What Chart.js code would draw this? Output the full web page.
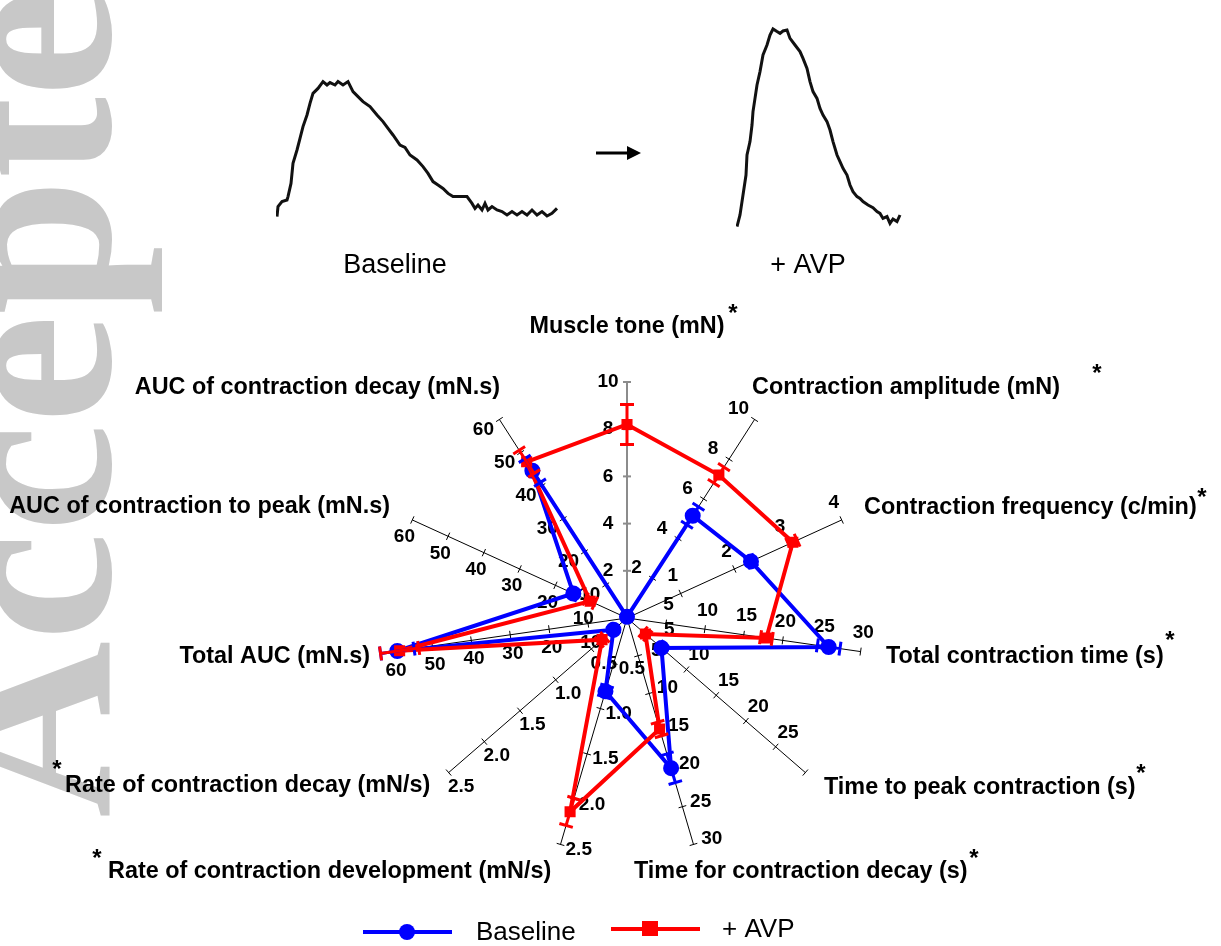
<!DOCTYPE html>
<html>
<head>
<meta charset="utf-8">
<script src="https://cdn.jsdelivr.net/npm/chart.js@4.4.1/dist/chart.umd.min.js"></script>
<style>
  html, body { margin: 0; padding: 0; background: #ffffff; }
  #page { position: relative; width: 1221px; height: 946px; overflow: hidden; }
  canvas { position: absolute; }
  #radar { left: 0; top: 0; }
  #traceBase { left: 276px; top: 20px; }
  #traceAvp { left: 736px; top: 20px; }
</style>
</head>
<body>
<div id="page">
  <canvas id="radar" width="1221" height="946"></canvas>
  <canvas id="traceBase" width="300" height="210"></canvas>
  <canvas id="traceAvp" width="300" height="210"></canvas>
</div>
<script>
// ---- Radar axes ----
const axisNames = [
  'Muscle tone (mN)',
  'Contraction amplitude (mN)',
  'Contraction frequency (c/min)',
  'Total contraction time (s)',
  'Time to peak contraction (s)',
  'Time for contraction decay (s)',
  'Rate of contraction development (mN/s)',
  'Rate of contraction decay (mN/s)',
  'Total AUC (mN.s)',
  'AUC of contraction to peak (mN.s)',
  'AUC of contraction decay (mN.s)'
];
const axisMax = [10, 10, 4, 30, 30, 30, 2.5, 2.5, 60, 60, 60];
const axisStep = [2, 2, 1, 5, 5, 5, 0.5, 0.5, 10, 10, 10];
const axisLabelMax = [10, 10, 4, 30, 25, 30, 2.5, 2.5, 60, 60, 60];
const axisSignificant = [true, true, true, true, true, true, true, true, false, false, false];

// ---- Series (mean and SEM on each axis) ----
const baselineMean = [0.05, 5.15, 2.31, 25.9, 5.8, 19.9, 0.81, 0.19, 59.0, 15.0, 44.5];
const baselineSem  = [0.05, 0.45, 0.07, 1.45, 0.45, 1.9, 0.06, 0.03, 4.3, 1.2, 3.6];
const avpMean      = [8.2, 7.2, 3.09, 17.9, 3.1, 14.7, 2.14, 0.35, 58.4, 10.3, 47.2];
const avpSem       = [0.85, 0.4, 0.08, 0.75, 0.4, 0.9, 0.15, 0.04, 4.9, 1.3, 3.5];

// ---- Example contraction traces (time in s, force in mN) ----
const baseTraceTime = [0.1,0.2,0.6,1.1,1.2,1.5,1.7,2.1,2.4,2.7,3.1,3.4,3.7,4.2,4.7,5.1,5.4,5.9,6.2,6.7,7.2,7.7,8.2,8.7,9.4,10.1,10.7,11.2,11.7,12.4,12.9,13.4,14.1,14.7,15.2,15.7,16.2,16.7,17.2,17.7,18.6,19.1,19.6,19.9,20.2,20.6,20.9,21.2,21.6,22.1,22.6,23.1,23.6,24.1,24.6,25.1,25.6,26.1,26.6,27.1,27.6,28.1];
const baseTraceForce = [0.67,1.17,1.42,1.5,1.67,2.33,3.33,4.0,4.58,5.17,5.75,6.33,6.83,7.08,7.42,7.25,7.37,7.25,7.42,7.25,7.42,6.92,6.67,6.42,6.17,5.75,5.42,5.08,4.75,4.25,4.13,3.75,3.5,3.17,2.83,2.42,2.25,2.08,1.83,1.67,1.67,1.67,1.33,1.08,1.25,1.0,1.33,1.0,1.17,1.0,0.92,0.75,0.92,0.75,0.92,0.75,1.0,0.75,0.92,0.7,0.83,1.08];
const avpTraceTime = [0.1,0.4,0.7,1.0,1.1,1.4,1.6,1.7,1.9,2.1,2.4,2.7,3.1,3.4,3.7,4.1,4.4,4.7,5.1,5.4,5.9,6.4,6.7,7.1,7.4,7.7,8.1,8.4,8.7,9.1,9.4,9.7,10.1,10.4,10.7,11.1,11.4,11.7,12.1,12.4,12.7,13.2,13.7,14.1,14.4,14.7,15.1,15.4,15.7,16.1,16.4];
const avpTraceForce = [0.17,0.75,1.75,2.75,3.75,4.42,5.25,5.92,6.58,7.25,7.92,8.75,9.25,9.75,10.05,9.92,9.83,9.95,10.0,9.58,9.25,8.92,8.58,8.08,7.42,6.92,6.58,6.08,5.75,5.42,5.0,4.42,3.75,3.42,3.08,2.75,2.25,1.92,1.67,1.58,1.42,1.25,1.12,0.92,0.83,0.58,0.67,0.33,0.55,0.42,0.75];

const BLUE = '#0000ff';
const RED = '#ff0000';
const SANS = '"Liberation Sans", Arial, Helvetica, sans-serif';

// Title placement around the radar (text anchor, alignment, asterisk spot)
const titleLayout = [
  {x: 627, y: 327, align: 'center', star: [733, 314]},
  {x: 752, y: 388, align: 'left', star: [1097, 374]},
  {x: 864, y: 508, align: 'left', star: [1202, 498]},
  {x: 886, y: 657, align: 'left', star: [1170, 641]},
  {x: 824, y: 788, align: 'left', star: [1141, 774]},
  {x: 634, y: 872, align: 'left', star: [974, 859]},
  {x: 108, y: 872, align: 'left', star: [97, 859]},
  {x: 65, y: 786, align: 'left', star: [57, 770]},
  {x: 370, y: 657, align: 'right'},
  {x: 390, y: 507, align: 'right'},
  {x: 500, y: 388, align: 'right'}
];

function fmtTick(v, step) {
  return step < 1 ? v.toFixed(1) : String(Math.round(v));
}

const radarDecor = {
  id: 'radarDecor',
  beforeDraw(chart) {
    const ctx = chart.ctx;
    // faint vertical watermark along the left edge
    ctx.save();
    ctx.fillStyle = '#c8c8c8';
    ctx.font = 'bold 245px "Liberation Serif", "Times New Roman", serif';
    ctx.translate(110, 818);
    ctx.rotate(-Math.PI / 2);
    ctx.textBaseline = 'alphabetic';
    ctx.textAlign = 'left';
    ctx.fillText('Accepted', 0, 0);
    ctx.restore();

    // captions under the two traces and the arrow between them
    ctx.save();
    ctx.fillStyle = '#000';
    ctx.font = '27px ' + SANS;
    ctx.textAlign = 'center';
    ctx.textBaseline = 'middle';
    ctx.fillText('Baseline', 395, 266);
    ctx.fillText('+ AVP', 808, 266);
    ctx.strokeStyle = '#000';
    ctx.lineWidth = 3;
    ctx.beginPath();
    ctx.moveTo(596, 153);
    ctx.lineTo(630, 153);
    ctx.stroke();
    ctx.beginPath();
    ctx.moveTo(641, 153);
    ctx.lineTo(627, 146);
    ctx.lineTo(627, 160);
    ctx.closePath();
    ctx.fill();
    ctx.restore();
  },
  beforeDatasetsDraw(chart) {
    const ctx = chart.ctx;
    const s = chart.scales.r;
    const cx = s.xCenter, cy = s.yCenter;
    ctx.save();
    axisNames.forEach((name, i) => {
      const end = s.getPointPositionForValue(i, 1);
      const len = Math.hypot(end.x - cx, end.y - cy);
      const ux = (end.x - cx) / len, uy = (end.y - cy) / len;
      const px = uy, py = -ux;
      const first = i === 0;
      ctx.strokeStyle = first ? '#8c8c8c' : '#000';
      ctx.lineWidth = first ? 2 : 1;
      ctx.beginPath();
      ctx.moveTo(cx, cy);
      ctx.lineTo(end.x, end.y);
      ctx.stroke();
      const n = Math.round(axisMax[i] / axisStep[i]);
      for (let k = 1; k <= n; k++) {
        const v = k * axisStep[i];
        const p = s.getPointPositionForValue(i, v / axisMax[i]);
        ctx.beginPath();
        ctx.moveTo(p.x - px * 4, p.y - py * 4);
        ctx.lineTo(p.x + px * 4, p.y + py * 4);
        ctx.stroke();
        if (v <= axisLabelMax[i] + 1e-9) {
          ctx.fillStyle = '#000';
          ctx.font = 'bold 19px ' + SANS;
          ctx.textAlign = 'center';
          ctx.textBaseline = 'middle';
          ctx.fillText(fmtTick(v, axisStep[i]), p.x + px * 19, p.y + py * 19);
        }
      }
      // axis title
      const t = titleLayout[i];
      ctx.fillStyle = '#000';
      ctx.font = 'bold 23.4px ' + SANS;
      ctx.textAlign = t.align;
      ctx.textBaseline = 'middle';
      ctx.fillText(name, t.x, t.y);
      if (axisSignificant[i] && t.star) {
        ctx.font = 'bold 24px ' + SANS;
        ctx.textAlign = 'center';
        ctx.fillText('*', t.star[0], t.star[1]);
      }
    });
    ctx.restore();
  },
  afterDatasetsDraw(chart) {
    const ctx = chart.ctx;
    const s = chart.scales.r;
    const cx = s.xCenter, cy = s.yCenter;
    const series = [[baselineMean, baselineSem, BLUE], [avpMean, avpSem, RED]];
    ctx.save();
    ctx.lineWidth = 3;
    series.forEach(([mean, sem, color]) => {
      ctx.strokeStyle = color;
      mean.forEach((m, i) => {
        const lo = s.getPointPositionForValue(i, Math.max(0, m - sem[i]) / axisMax[i]);
        const hi = s.getPointPositionForValue(i, (m + sem[i]) / axisMax[i]);
        const end = s.getPointPositionForValue(i, 1);
        const len = Math.hypot(end.x - cx, end.y - cy);
        const px = (end.y - cy) / len, py = -(end.x - cx) / len;
        ctx.beginPath();
        ctx.moveTo(lo.x, lo.y);
        ctx.lineTo(hi.x, hi.y);
        [lo, hi].forEach(p => {
          ctx.moveTo(p.x - px * 7, p.y - py * 7);
          ctx.lineTo(p.x + px * 7, p.y + py * 7);
        });
        ctx.stroke();
      });
    });
    ctx.restore();
  },
  afterDraw(chart) {
    const ctx = chart.ctx;
    ctx.save();
    ctx.lineWidth = 4;
    // Baseline entry
    ctx.strokeStyle = BLUE;
    ctx.beginPath(); ctx.moveTo(363, 932); ctx.lineTo(452, 932); ctx.stroke();
    ctx.fillStyle = BLUE;
    ctx.beginPath(); ctx.arc(407, 932, 8, 0, Math.PI * 2); ctx.fill();
    // + AVP entry
    ctx.strokeStyle = RED;
    ctx.beginPath(); ctx.moveTo(611, 929); ctx.lineTo(700, 929); ctx.stroke();
    ctx.fillStyle = RED;
    ctx.fillRect(642, 921, 16, 15);
    ctx.fillStyle = '#000';
    ctx.font = '26px ' + SANS;
    ctx.textAlign = 'left';
    ctx.textBaseline = 'middle';
    ctx.fillText('Baseline', 476, 933);
    ctx.fillText('+ AVP', 722, 930);
    ctx.restore();
  }
};

new Chart(document.getElementById('radar'), {
  type: 'radar',
  data: {
    labels: axisNames,
    datasets: [
      {
        label: 'Baseline',
        data: baselineMean.map((v, i) => v / axisMax[i]),
        borderColor: BLUE,
        backgroundColor: BLUE,
        pointBackgroundColor: BLUE,
        pointBorderColor: BLUE,
        pointStyle: 'circle',
        pointRadius: 6,
        borderWidth: 4,
        fill: false,
        order: 2
      },
      {
        label: '+ AVP',
        data: avpMean.map((v, i) => v / axisMax[i]),
        borderColor: RED,
        backgroundColor: RED,
        pointBackgroundColor: RED,
        pointBorderColor: RED,
        pointStyle: 'rect',
        pointRadius: 5,
        borderWidth: 4,
        fill: false,
        order: 1
      }
    ]
  },
  options: {
    responsive: false,
    animation: false,
    layout: { padding: { left: 391, right: 358, top: 382, bottom: 92 } },
    plugins: { legend: { display: false }, tooltip: { enabled: false } },
    elements: { line: { tension: 0 } },
    scales: {
      r: {
        min: 0,
        max: 1,
        grid: { display: false },
        angleLines: { display: false },
        ticks: { display: false },
        pointLabels: { display: false }
      }
    }
  },
  plugins: [radarDecor]
});

function traceChart(id, times, forces) {
  return new Chart(document.getElementById(id), {
    type: 'line',
    data: {
      datasets: [{
        data: times.map((t, i) => ({ x: t, y: forces[i] })),
        borderColor: '#111',
        borderWidth: 3,
        pointRadius: 0,
        tension: 0,
        fill: false
      }]
    },
    options: {
      responsive: false,
      animation: false,
      layout: { padding: 0 },
      plugins: { legend: { display: false }, tooltip: { enabled: false } },
      scales: {
        x: { type: 'linear', min: 0, max: 30, display: false },
        y: { min: 0, max: 10.5, display: false }
      }
    }
  });
}
traceChart('traceBase', baseTraceTime, baseTraceForce);
traceChart('traceAvp', avpTraceTime, avpTraceForce);
</script>
</body>
</html>
